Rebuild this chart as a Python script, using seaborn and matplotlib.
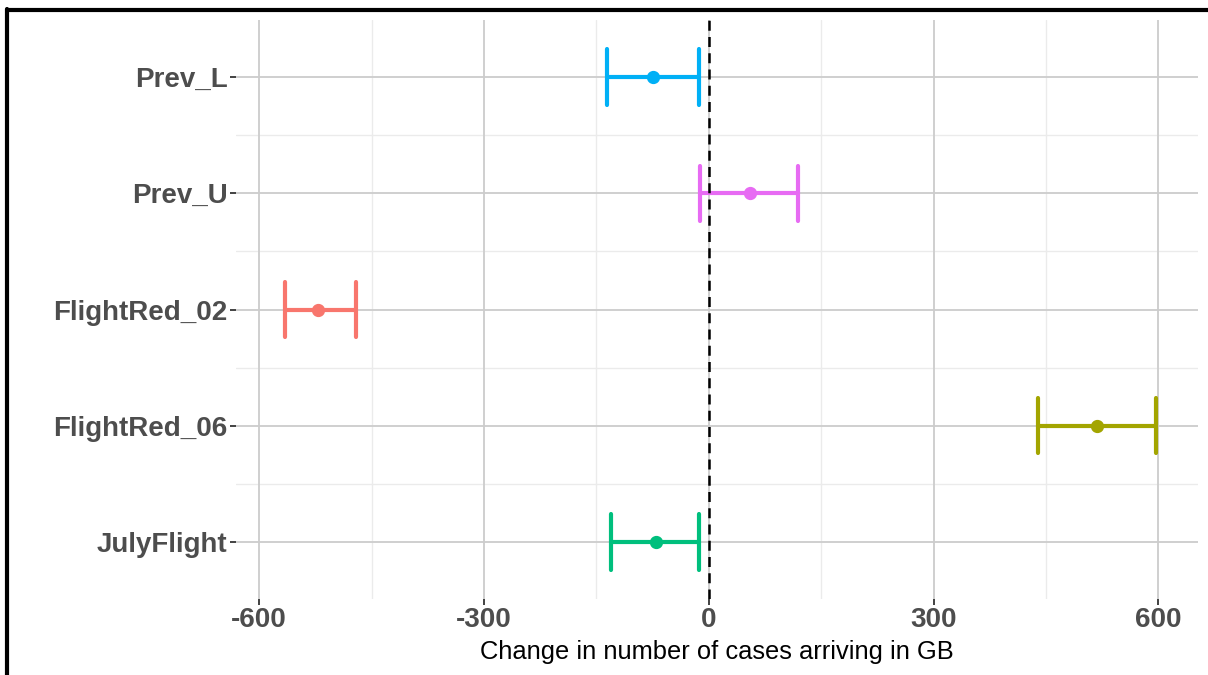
import numpy as np
import pandas as pd
import matplotlib
matplotlib.use("Agg")
import matplotlib.pyplot as plt
from matplotlib.ticker import FixedLocator
import seaborn as sns

categories = ["Prev_L", "Prev_U", "FlightRed_02", "FlightRed_06", "JulyFlight"]
estimate = [-75, 55, -521, 518, -71]
lower = [-136, -12, -566, 439, -130]
upper = [-13, 119, -471, 597, -13]
colors = ["#00B0F6", "#E76BF3", "#F8766D", "#A3A500", "#00BF7D"]
xticks = [-600, -300, 0, 300, 600]

rows = []
for c, lo, e, hi in zip(categories, lower, estimate, upper):
    for v in (lo, e, hi):
        rows.append({"scenario": c, "value": v})
df = pd.DataFrame(rows)

sns.set_theme(style="white")
plt.rcParams["font.family"] = ["Liberation Sans", "DejaVu Sans"]

fig = plt.figure(figsize=(12.08, 6.75), dpi=100)
ax = fig.add_axes([236/1208, 1-599/675, (1198-236)/1208, (599-20)/675])

# grid
ax.set_axisbelow(True)
for x in [-450, -150, 150, 450]:
    ax.axvline(x, color="#EBEBEB", lw=1.0, zorder=0)
for y in [0.5, 1.5, 2.5, 3.5]:
    ax.axhline(y, color="#EBEBEB", lw=1.0, zorder=0)
for x in xticks:
    ax.axvline(x, color="#CCCCCC", lw=1.3, zorder=0)
for y in range(len(categories)):
    ax.axhline(y, color="#CCCCCC", lw=1.3, zorder=0)

sns.pointplot(data=df, x="value", y="scenario", hue="scenario",
              order=categories, hue_order=categories, palette=colors,
              estimator=np.median, errorbar=lambda v: (v.min(), v.max()),
              linestyle="none", capsize=0.475, err_kws={"linewidth": 3},
              markers="o", markersize=7.5, legend=False, ax=ax, zorder=3)

ax.axvline(0, color="black", lw=1.8, ls=(0, (4, 2.5)), zorder=4)

ax.set_xlim(-631, 653)
ax.set_ylim(4.49, -0.49)
ax.xaxis.set_major_locator(FixedLocator(xticks))
ax.set_xticklabels([str(t) for t in xticks])
for s in ax.spines.values():
    s.set_visible(False)
ax.tick_params(axis="both", which="major", length=4, width=1.3, color="#333333",
               labelsize=20, labelcolor="#4D4D4D", pad=2, direction="out",
               bottom=True, left=True)
for lab in ax.get_xticklabels() + ax.get_yticklabels():
    lab.set_fontweight("bold")
ax.set_ylabel("")
ax.set_xlabel("Change in number of cases arriving in GB", fontsize=18.4,
              color="black", labelpad=5)
ax.grid(False)

# outer border
fig.add_artist(plt.Line2D([7.5/1208, 7.5/1208], [0, 1-9/675], color="black", lw=3,
                          transform=fig.transFigure))
fig.add_artist(plt.Line2D([7.5/1208, 1], [1-9.5/675, 1-9.5/675], color="black", lw=3,
                          transform=fig.transFigure))

fig.savefig("out.png", dpi=100, facecolor="white")
